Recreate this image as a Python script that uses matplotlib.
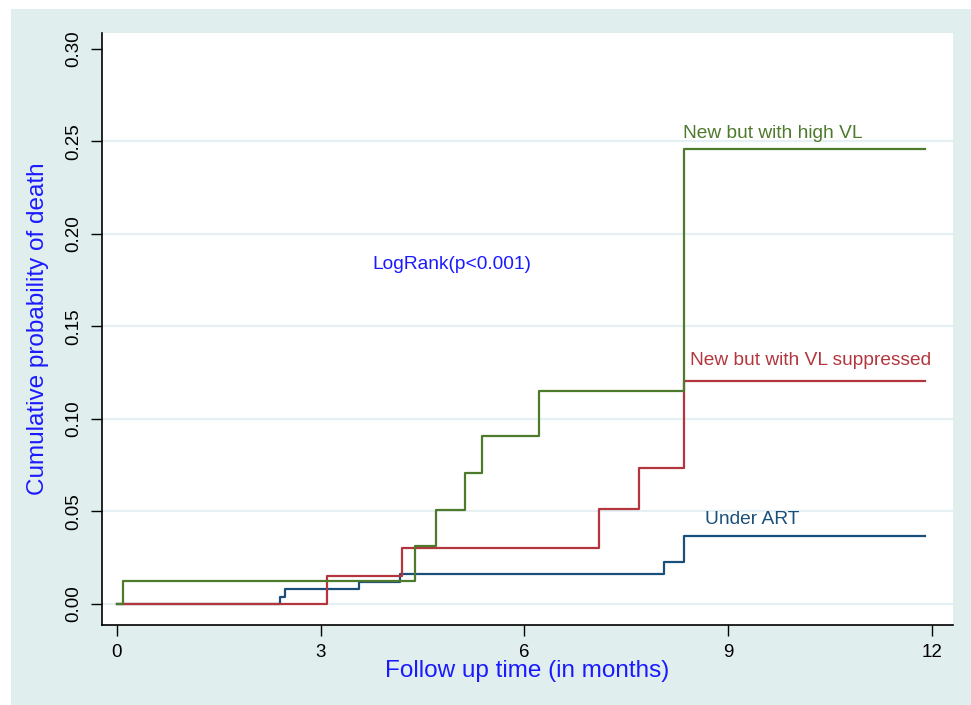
import matplotlib
matplotlib.use('agg')
import matplotlib.pyplot as plt
from matplotlib.patches import Rectangle

# Kaplan-Meier failure steps (time in months, cumulative probability of death)
t_high = [0, 0.09, 4.39, 4.70, 5.13, 5.37, 6.22, 8.35, 11.9]
f_high = [0, 0.0124, 0.0315, 0.051, 0.0706, 0.0908, 0.115, 0.246, 0.246]

t_supp = [0, 3.09, 4.20, 7.10, 7.69, 8.35, 11.9]
f_supp = [0, 0.0151, 0.0304, 0.0513, 0.0733, 0.1207, 0.1207]

t_art = [0, 2.40, 2.48, 3.56, 4.17, 8.05, 8.35, 11.9]
f_art = [0, 0.0040, 0.0079, 0.012, 0.0162, 0.0225, 0.0369, 0.0369]

xticks = [0, 3, 6, 9, 12]
yticks = [0.00, 0.05, 0.10, 0.15, 0.20, 0.25, 0.30]

green = '#4e7a2c'
red = '#b3363f'
navy = '#1a4f7a'
bg = '#e1eeee'

plt.rcParams['font.family'] = ['Liberation Sans', 'DejaVu Sans']

fig = plt.figure(figsize=(9.71, 7.05), dpi=100)
fig.patch.set_facecolor('white')
fig.patches.append(Rectangle((11/971, 0), 1, 1 - 9/705, transform=fig.transFigure,
                             facecolor=bg, edgecolor='none', zorder=-10))

ax = fig.add_axes([102/971, 80/705, (953-102)/971, (625-33)/705])
ax.set_facecolor('white')

for y in yticks[:-1]:
    ax.axhline(y, color='#e6eff3', lw=1.6, zorder=1)

ax.step(t_art, f_art, where='post', color=navy, lw=1.6, zorder=3)
ax.step(t_supp, f_supp, where='post', color=red, lw=1.6, zorder=3)
ax.step(t_high, f_high, where='post', color=green, lw=1.6, zorder=4)

ax.text(8.34, 0.2545, 'New but with high VL', color=green, fontsize=13.8, va='center')
ax.text(8.44, 0.1318, 'New but with VL suppressed', color=red, fontsize=13.8, va='center')
ax.text(8.66, 0.0458, 'Under ART', color=navy, fontsize=13.8, va='center')
ax.text(3.76, 0.1835, 'LogRank(p<0.001)', color='#1a1aff', fontsize=13.8, va='center')

ax.set_xlim(-0.22, 12.31)
ax.set_ylim(-0.0114, 0.3086)
ax.set_xticks(xticks)
ax.set_yticks(yticks)
ax.set_yticklabels(['%.2f' % y for y in yticks], rotation=90, va='center')
ax.tick_params(axis='both', direction='out', length=8, width=1, labelsize=13.5, pad=6)

for s in ['top', 'right']:
    ax.spines[s].set_visible(False)
for s in ['left', 'bottom']:
    ax.spines[s].set_linewidth(1.2)

ax.set_xlabel('Follow up time (in months)', color='#1a1aff', fontsize=17.5, labelpad=-1)
ax.set_ylabel('Cumulative probability of death', color='#1a1aff', fontsize=17.5, labelpad=12)

fig.savefig('out.png', dpi=100, facecolor=fig.get_facecolor())
